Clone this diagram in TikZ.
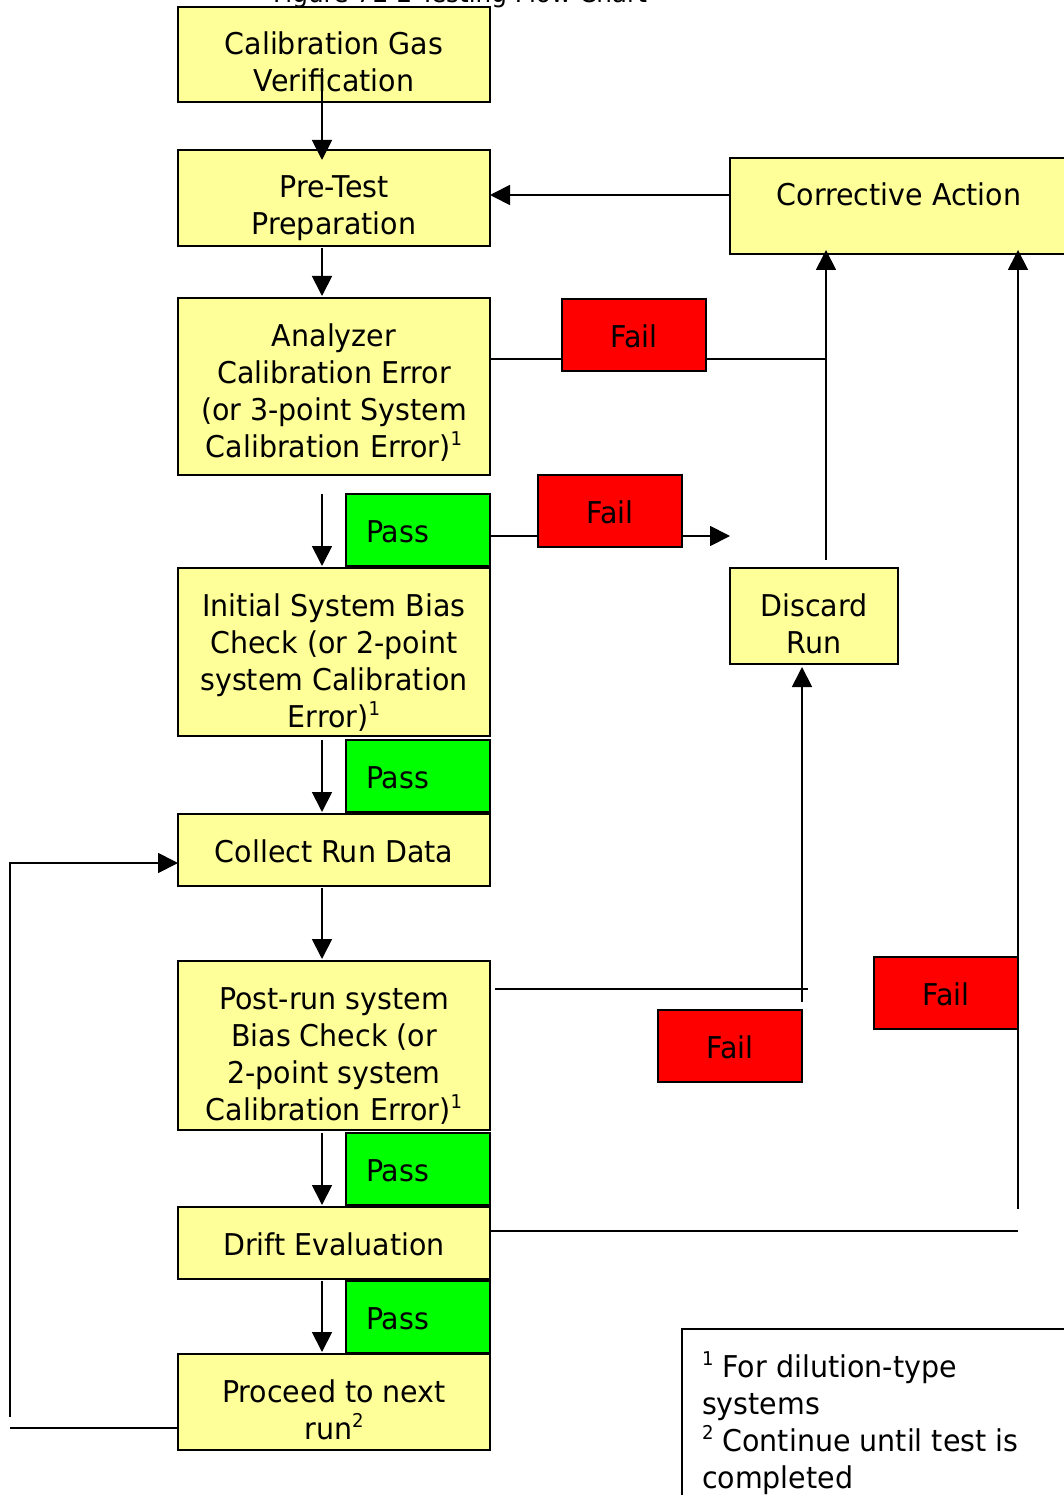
\documentclass[tikz,border=0pt]{standalone}
\usepackage{fontspec}
\setmainfont{DejaVu Sans}[FakeStretch=0.95]
\usetikzlibrary{arrows.meta,calc}
\definecolor{ylw}{RGB}{255,255,153}
\definecolor{redf}{RGB}{255,0,0}
\definecolor{grnf}{RGB}{0,255,0}
\newcommand{\tbox}[4][\centering]{\parbox[t][#3pt][t]{#2pt}{#1\rule{0pt}{48pt}#4}}
\newcommand{\fnm}[1]{\raisebox{12pt}{\fontsize{19}{19}\selectfont #1}}
\begin{document}
\begin{tikzpicture}[x=1pt,y=-1pt,
  every node/.style={font=\fontsize{30}{37}\selectfont},
  box/.style={draw=black, line width=1.8pt, fill=ylw, inner sep=0pt, outer sep=0pt},
  passbox/.style={box, fill=grnf},
  failbox/.style={box, fill=redf},
  conn/.style={line width=1.8pt, draw=black},
  arr/.style={conn, -{Triangle[length=20pt,width=20pt]}}]
\useasboundingbox (0,0) rectangle (1064,1495);
\clip (0,0) rectangle (1064,1495);
\fill[white] (0,0) rectangle (1064,1495);

% title (cut off at the top, as in the source page)
\node[anchor=base, inner sep=0pt, font=\fontsize{26}{30}\selectfont] (title) at (460,3) {Figure 7E-2 Testing Flow Chart};

% main column
\node[box] (cal)   at (334,54.5)  {\tbox{312}{95}{Calibration Gas\\Verification}};
\node[box] (pre)   at (334,198)   {\tbox{312}{96}{Pre-Test\\Preparation}};
\node[box] (ana)   at (334,386.5) {\tbox{312}{177}{Analyzer\\Calibration Error\\(or 3-point System\\Calibration Error)\fnm{1}}};
\node[box] (ini)   at (334,652)   {\tbox{312}{168}{Initial System Bias\\Check (or 2-point\\system Calibration\\Error)\fnm{1}}};
\node[box] (col)   at (334,850)   {\tbox{312}{72}{Collect Run Data}};
\node[box] (post)  at (334,1045.5){\tbox{312}{169}{Post-run system\\Bias Check (or\\2-point system\\Calibration Error)\fnm{1}}};
\node[box] (drift) at (334,1243)  {\tbox{312}{72}{Drift Evaluation}};
\node[box] (proc)  at (334,1402)  {\tbox{312}{96}{Proceed to next\\run\fnm{2}}};

% pass boxes
\node[passbox] (pass1) at (418,530)  {\tbox[\raggedright\hspace*{20pt}]{144}{72}{Pass}};
\node[passbox] (pass2) at (418,776)  {\tbox[\raggedright\hspace*{20pt}]{144}{72}{Pass}};
\node[passbox] (pass3) at (418,1169) {\tbox[\raggedright\hspace*{20pt}]{144}{72}{Pass}};
\node[passbox] (pass4) at (418,1317) {\tbox[\raggedright\hspace*{20pt}]{144}{72}{Pass}};

% right column
\node[box] (corr) at (899,206) {\tbox{338}{96}{Corrective Action}};
\node[box] (disc) at (814,616) {\tbox{168}{96}{Discard\\Run}};

% connectors drawn beneath fail boxes
\coordinate (j1) at ($(ana.east)+(0,-27.5)$);
\coordinate (v1) at ($(disc.north)+(12,-8)$);
\coordinate (t1b) at (v1 |- corr.south);
\coordinate (t1) at ($(t1b)+(0,-4)$);
\draw[conn] (j1) -- (j1 -| v1);
\draw[arr] (v1) -- (t1);

\coordinate (j2) at ($(pass1.east)+(0,6)$);
\coordinate (t2) at (j2 -| disc.west);
\draw[arr] (j2) -- (t2);

% fail boxes
\node[failbox] (fail1) at (634,335)  {\tbox{144}{72}{Fail}};
\node[failbox] (fail2) at (610,511)  {\tbox{144}{72}{Fail}};
\node[failbox] (fail3) at (730,1046) {\tbox{144}{72}{Fail}};
\node[failbox] (fail4) at (946,993)  {\tbox{144}{72}{Fail}};

% post-run fail -> discard run
\coordinate (j3) at ($(post.north east)+(5,28)$);
\coordinate (e3) at ($(fail3.north east)+(6,-21)$);
\draw[conn] (j3) -- (e3);
\coordinate (v3) at ($(fail3.north east)+(0,-8)$);
\coordinate (t3) at ($(disc.south)+(-12,3)$);
\draw[arr] (v3) -- (t3);

% drift fail -> corrective action
\coordinate (j4) at ($(drift.east)+(0,-12)$);
\coordinate (e4) at (j4 -| fail4.east);
\draw[conn] (j4) -- (e4);
\coordinate (v4) at ($(e4)+(0,-22)$);
\coordinate (t4b) at (v4 |- corr.south);
\coordinate (t4) at ($(t4b)+(0,-4)$);
\draw[arr] (v4) -- (t4);

% corrective action -> pre-test
\coordinate (cw) at ($(corr.west)+(0,-11)$);
\draw[arr] (cw) -- (cw -| pre.east);

% main vertical flow
\draw[arr] ($(cal.south)+(-12,-30)$) -- ($(pre.north)+(-12,10)$);
\draw[arr] ($(pre.south)+(-12,2)$) -- ($(ana.north)+(-12,-2)$);
\draw[arr] ($(ana.south)+(-12,19)$) -- ($(ini.north)+(-12,-2)$);
\draw[arr] ($(ini.south)+(-12,4)$) -- ($(col.north)+(-12,-2)$);
\draw[arr] ($(col.south)+(-12,2)$) -- ($(post.north)+(-12,-2)$);
\draw[arr] ($(post.south)+(-12,3)$) -- ($(drift.north)+(-12,-2)$);
\draw[arr] ($(drift.south)+(-12,2)$) -- ($(proc.north)+(-12,-2)$);

% loop back to collect run data
\coordinate (l1) at ($(proc.west)+(0,26)$);
\coordinate (l2) at ($(l1)+(-168,0)$);
\draw[conn] (l1) -- (l2);
\coordinate (l3) at ($(l2)+(0,-11)$);
\coordinate (l4) at ($(col.west)+(-168,13)$);
\draw[arr] (l3) -- (l4) -- (l4 -| col.west);

% footnote box
\node[box, fill=white] (note) at (881,1419.5) {\tbox[\raggedright\hspace*{20pt}]{398}{181}{\fnm{1} For dilution-type\\\hspace*{20pt}systems\\\hspace*{20pt}\fnm{2} Continue until test is\\\hspace*{20pt}completed}};
\end{tikzpicture}
\end{document}
